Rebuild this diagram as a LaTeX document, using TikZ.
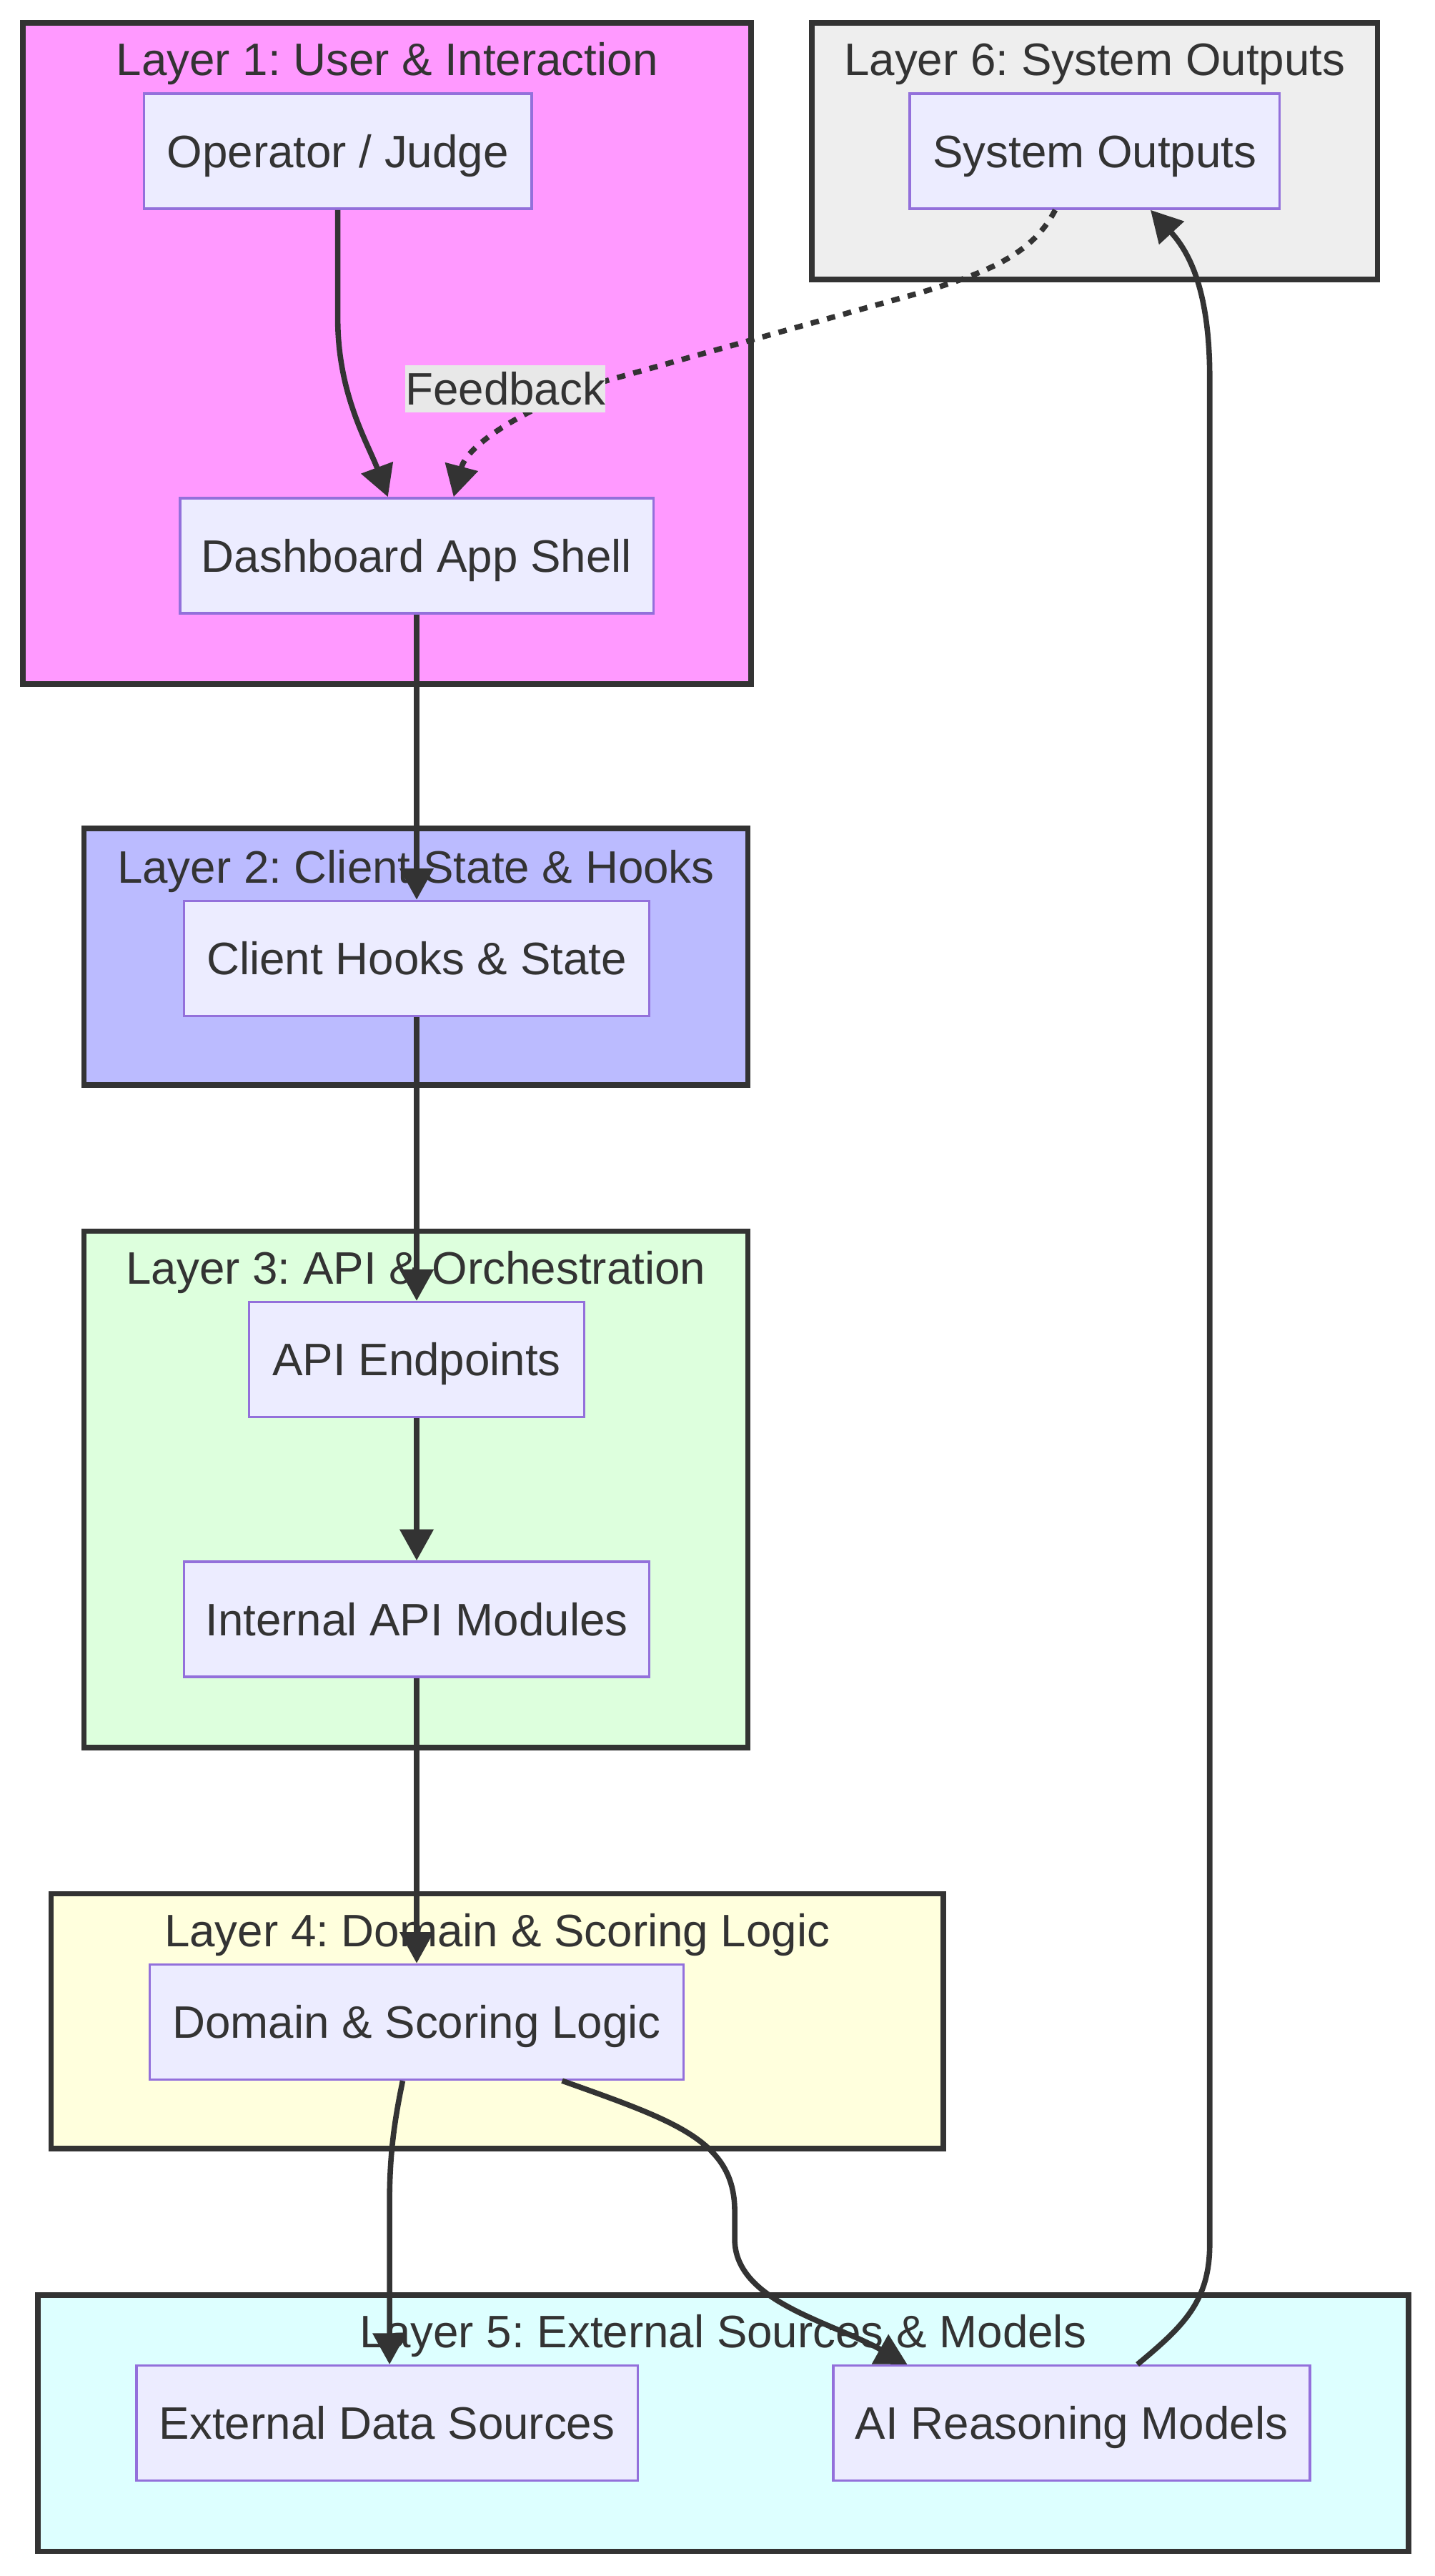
\documentclass[tikz,border=0pt]{standalone}
\usepackage{fontspec}
\setmainfont{Liberation Sans}
\usetikzlibrary{arrows.meta}
\definecolor{ink}{HTML}{333333}
\definecolor{nodef}{HTML}{ECECFF}
\definecolor{nodeb}{HTML}{9370DB}
\definecolor{lone}{HTML}{FF99FF}
\definecolor{ltwo}{HTML}{BBBBFF}
\definecolor{lthree}{HTML}{DDFFDD}
\definecolor{lfour}{HTML}{FFFFDD}
\definecolor{lfive}{HTML}{DDFFFF}
\definecolor{lsix}{HTML}{EEEEEE}
\definecolor{lblbg}{HTML}{E8E8E8}
\frenchspacing
\begin{document}
\begin{tikzpicture}[x=1pt,y=-1pt,
  font=\fontsize{27.7}{33}\selectfont, text=ink,
  cluster/.style={draw=ink, line width=3.3pt},
  nbox/.style={draw=nodeb, fill=nodef, line width=1.45pt, minimum height=70pt,
    inner sep=0pt, text height=19.8pt, text depth=0pt},
  ttl/.style={anchor=base, inner sep=0pt},
  flow/.style={draw=ink, line width=3.3pt, -{Triangle[length=19pt,width=20pt]}},
  dots/.style={flow, dash pattern=on 5.1pt off 5.1pt},
  lbl/.style={fill=lblbg, inner sep=0pt, minimum width=121pt, minimum height=29pt,
    text height=19.8pt, text depth=0pt}
]
\useasboundingbox (0,0) rectangle (873,1567);

% clusters
\draw[cluster, fill=lone]   (14,14) rectangle (457,416);
\draw[cluster, fill=lsix]   (494,14) rectangle (838,170);
\draw[cluster, fill=ltwo]   (51,504) rectangle (455,660);
\draw[cluster, fill=lthree] (51,749) rectangle (455,1063);
\draw[cluster, fill=lfour]  (31,1152) rectangle (574,1307);
\draw[cluster, fill=lfive]  (23,1396) rectangle (857,1552);

% cluster titles
\node[ttl] (t1) at (235.5,46) {Layer 1: User \& Interaction};
\node[ttl] (t6) at (666,46) {Layer 6: System Outputs};
\node[ttl] (t2) at (253,537) {Layer 2: Client State \& Hooks};
\node[ttl] (t3) at (253,781) {Layer 3: API \& Orchestration};
\node[ttl] (t4) at (302.5,1184) {Layer 4: Domain \& Scoring Logic};
\node[ttl] (t5) at (440,1428) {Layer 5: External Sources \& Models};

% nodes
\node[nbox, minimum width=236pt] (op) at (205.5,92) {Operator / Judge};
\node[nbox, minimum width=288pt] (dash) at (253.5,338) {Dashboard App Shell};
\node[nbox, minimum width=225pt] (sys) at (666,92) {System Outputs};
\node[nbox, minimum width=283pt] (hooks) at (253.5,583) {Client Hooks \& State};
\node[nbox, minimum width=204pt] (api) at (253.5,827) {API Endpoints};
\node[nbox, minimum width=283pt] (internal) at (253.5,985) {Internal API Modules};
\node[nbox, minimum width=325pt] (domain) at (253.5,1230) {Domain \& Scoring Logic};
\node[nbox, minimum width=305pt] (ext) at (235.5,1474) {External Data Sources};
\node[nbox, minimum width=290pt] (ai) at (652,1474) {AI Reasoning Models};

% edges
\draw[flow] (op.south) -- (205.5,194) .. controls (205.5,240) and (224,270) .. ([xshift=-17.5pt]dash.north);
\draw[dots] ([xshift=-24pt]sys.south) .. controls (628,155) and (600,166) .. (560,178)
  -- (371,231) .. controls (330,243) and (285,268) .. ([xshift=22.5pt]dash.north);
\draw[flow] (dash.south) -- (hooks.north);
\draw[flow] (hooks.south) -- (api.north);
\draw[flow] (api.south) -- (internal.north);
\draw[flow] (internal.south) -- (domain.north);
\draw[flow] ([xshift=-8.5pt]domain.south) .. controls (240,1290) and (237,1310) .. (237,1340) -- ([xshift=1.5pt]ext.north);
\draw[flow] ([xshift=88.5pt]domain.south) .. controls (410,1290) and (447,1302) .. (447,1345)
  -- (447,1362) .. controls (447,1400) and (505,1412) .. ([xshift=-100pt]ai.north);
\draw[flow] ([xshift=40pt]ai.north) .. controls (720,1415) and (736,1400) .. (736,1365)
  -- (736,230) .. controls (736,182) and (726,156) .. ([xshift=34pt]sys.south);

% edge label
\node[lbl] (fb) at (307.5,236.5) {Feedback};
\end{tikzpicture}
\end{document}
